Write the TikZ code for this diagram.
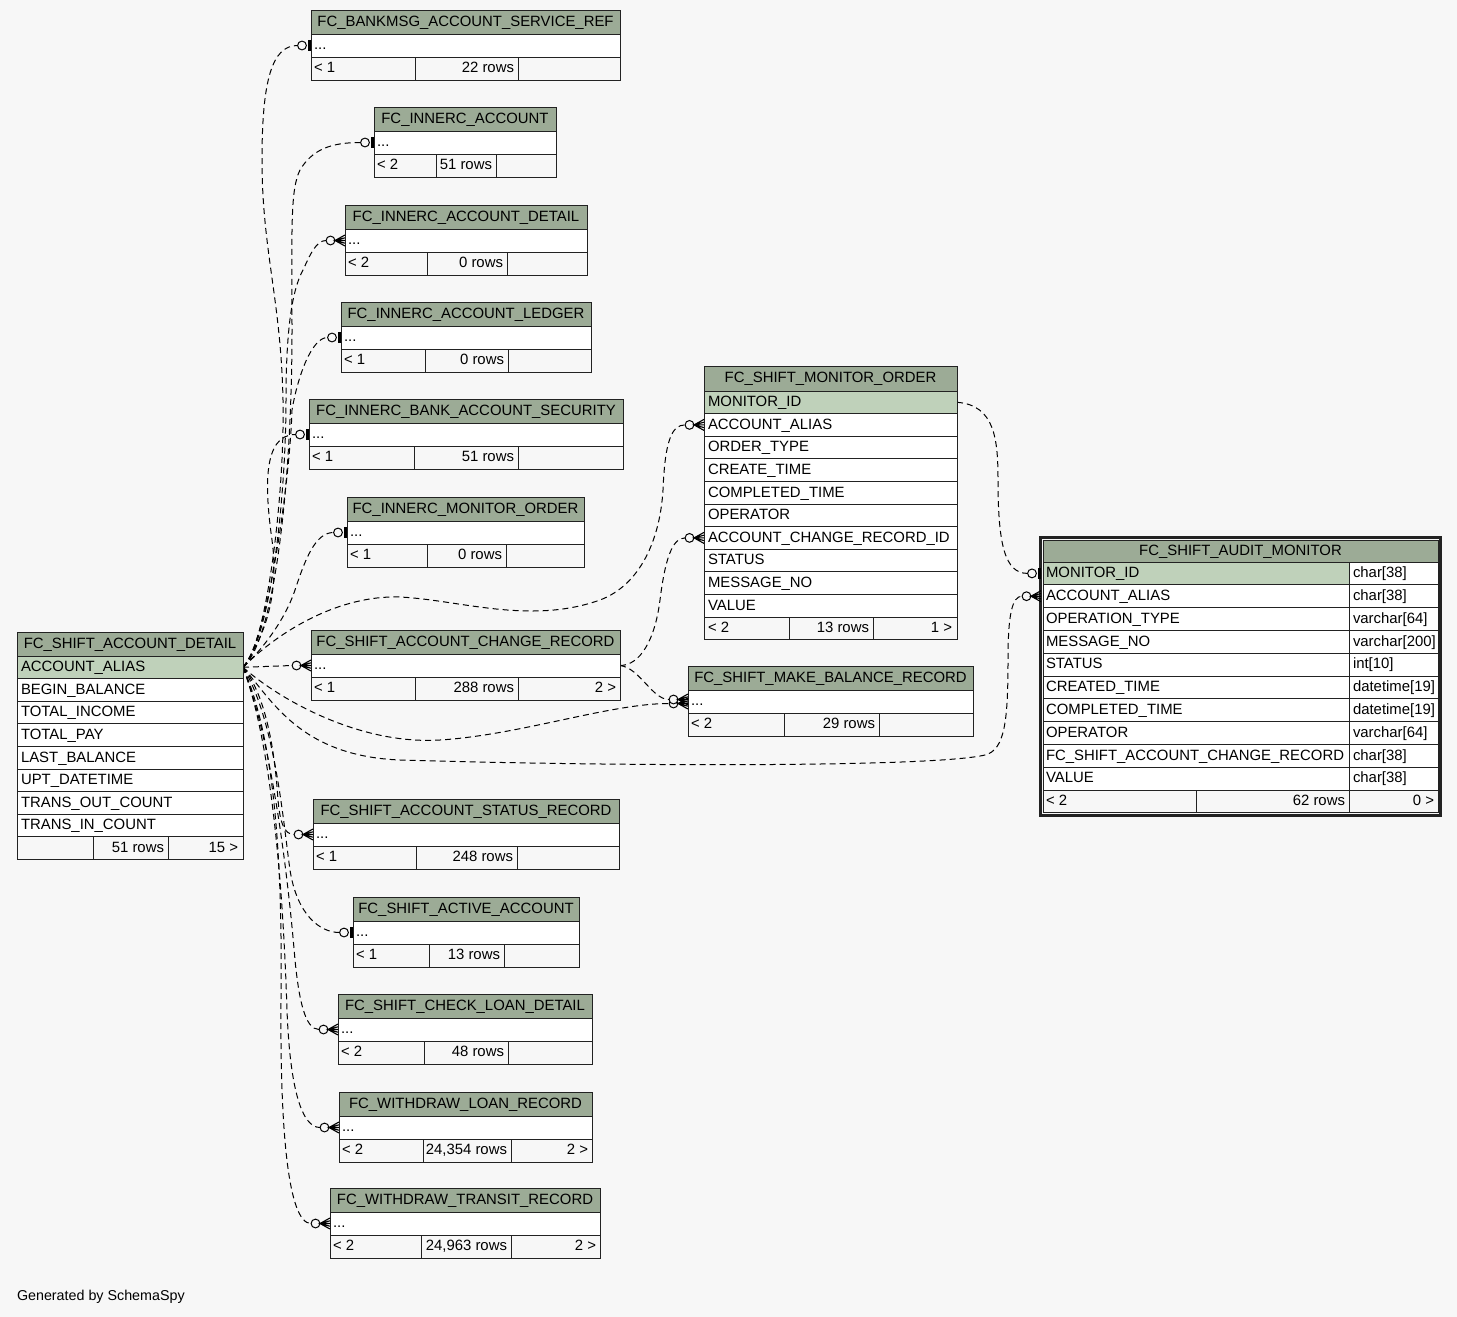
\documentclass[tikz,border=0pt]{standalone}
\usepackage{fontspec}
\setmainfont{Liberation Sans}
\usetikzlibrary{calc}
\definecolor{bgcol}{HTML}{F7F7F7}
\definecolor{hdrcol}{HTML}{9CAB96}
\definecolor{keycol}{HTML}{BFD1BA}
\definecolor{linecol}{HTML}{222222}
\pgfdeclarelayer{bgl}
\pgfdeclarelayer{edges}
\pgfsetlayers{bgl,edges,main}
\tikzset{
  txt/.style={inner sep=0pt, outer sep=0pt, text height=10.6pt, text depth=0pt, font=\fontsize{14.9}{17}\selectfont},
  tabline/.style={draw=linecol, line width=1pt},
  rel/.style={draw=black, line width=1pt, dash pattern=on 6pt off 4pt},
  teeodot/.pic={\draw[black,line width=1pt,fill=bgcol] (-9,0) circle[radius=4.4pt]; \fill[black] (-3,-5.5) rectangle (0,5.5);},
  crowodot/.pic={\draw[black,line width=1pt,fill=bgcol] (-14.5,0) circle[radius=4.4pt];
     \draw[black,line width=1.1pt] (0,-5.5) -- (-10,0) -- (0,5.5) (0,-2.7) -- (-10,0) -- (0,2.7) (-10,0) -- (0,0);}
}
% #1 name, #2 x1, #3 x2, #4 top, #5 d1, #6 d2, #7 title, #8 foot left, #9 foot mid
\newcommand\smalltab[9]{%
  \fill[hdrcol] (#2,#4) rectangle (#3,#4+24);
  \fill[white] (#2,#4+24) rectangle (#3,#4+47);
  \fill[bgcol] (#2,#4+47) rectangle (#3,#4+70);
  \draw[tabline] (#2,#4) rectangle (#3,#4+70);
  \draw[tabline] (#2,#4+24) -- (#3,#4+24) (#2,#4+47) -- (#3,#4+47) (#5,#4+47) -- (#5,#4+70) (#6,#4+47) -- (#6,#4+70);
  \node[txt] (#1-h) at ({(#2+#3)/2},#4+11) {#7};
  \node[txt,anchor=west] (#1-r) at (#2+3,#4+34.5) {...};
  \node[txt,anchor=west] (#1-fl) at (#2+3,#4+57.5) {#8};
  \node[txt,anchor=east] (#1-fm) at (#6-4,#4+57.5) {#9};
  \coordinate (#1) at (#2,#4+35.5);
  \coordinate (#1-t) at (#2-13.5,#4+35.5);
  \coordinate (#1-c) at (#2-19,#4+35.5);
  \coordinate (#1-R) at (#3,#4+35.5);
}
\begin{document}
\begin{tikzpicture}[x=1pt,y=-1pt]
\begin{pgfonlayer}{bgl}
\fill[bgcol] (0,0) rectangle (1457,1317);
\end{pgfonlayer}
\useasboundingbox (0,0) rectangle (1457,1317);

% ---------- small tables ----------
\smalltab{bank}{311}{620}{10}{415}{518}{FC\_BANKMSG\_ACCOUNT\_SERVICE\_REF}{< 1}{22 rows}
\smalltab{inacc}{374}{556}{107}{436}{496}{FC\_INNERC\_ACCOUNT}{< 2}{51 rows}
\smalltab{inaccd}{345}{587}{205}{427}{507}{FC\_INNERC\_ACCOUNT\_DETAIL}{< 2}{0 rows}
\smalltab{inled}{341}{591}{302}{425}{508}{FC\_INNERC\_ACCOUNT\_LEDGER}{< 1}{0 rows}
\smalltab{insec}{309}{623}{399}{414}{518}{FC\_INNERC\_BANK\_ACCOUNT\_SECURITY}{< 1}{51 rows}
\smalltab{inmon}{347}{584}{497}{427}{506}{FC\_INNERC\_MONITOR\_ORDER}{< 1}{0 rows}
\smalltab{chg}{311}{620}{630}{415}{518}{FC\_SHIFT\_ACCOUNT\_CHANGE\_RECORD}{< 1}{288 rows}
\node[txt,anchor=east] (chg-fr) at (616,687.5) {2 >};
\smalltab{mkb}{688}{973}{666}{784}{879}{FC\_SHIFT\_MAKE\_BALANCE\_RECORD}{< 2}{29 rows}
\smalltab{stat}{313}{619}{799}{416}{517}{FC\_SHIFT\_ACCOUNT\_STATUS\_RECORD}{< 1}{248 rows}
\smalltab{act}{353}{579}{897}{429}{504}{FC\_SHIFT\_ACTIVE\_ACCOUNT}{< 1}{13 rows}
\smalltab{chk}{338}{592}{994}{424}{508}{FC\_SHIFT\_CHECK\_LOAN\_DETAIL}{< 2}{48 rows}
\smalltab{wlr}{339}{592}{1092}{423}{511}{FC\_WITHDRAW\_LOAN\_RECORD}{< 2}{24,354 rows}
\node[txt,anchor=east] (wlr-fr) at (588,1149.5) {2 >};
\smalltab{wtr}{330}{600}{1188}{421}{511}{FC\_WITHDRAW\_TRANSIT\_RECORD}{< 2}{24,963 rows}
\node[txt,anchor=east] (wtr-fr) at (596,1245.5) {2 >};

% ---------- FC_SHIFT_ACCOUNT_DETAIL ----------
\fill[hdrcol] (17,632) rectangle (243,656);
\fill[keycol] (17,656) rectangle (243,678.6);
\fill[white] (17,678.6) rectangle (243,836.8);
\fill[bgcol] (17,836.8) rectangle (243,859.4);
\draw[tabline] (17,632) rectangle (243,859.4);
\foreach \i in {0,...,8} \draw[tabline] (17,656+\i*22.6) -- (243,656+\i*22.6);
\draw[tabline] (93,836.8) -- (93,859.4) (168,836.8) -- (168,859.4);
\node[txt] (ad-h) at (130,643) {FC\_SHIFT\_ACCOUNT\_DETAIL};
\foreach \t [count=\i from 0] in {ACCOUNT\_ALIAS,BEGIN\_BALANCE,TOTAL\_INCOME,TOTAL\_PAY,LAST\_BALANCE,UPT\_DATETIME,TRANS\_OUT\_COUNT,TRANS\_IN\_COUNT}
  \node[txt,anchor=west] (ad-\i) at (21,656+\i*22.6+10.3) {\t};
\node[txt,anchor=east] (ad-fm) at (164,847.1) {51 rows};
\node[txt,anchor=east] (ad-fr) at (238,847.1) {15 >};
\coordinate (S) at (243,667.3);

% ---------- FC_SHIFT_MONITOR_ORDER ----------
\fill[hdrcol] (704,366) rectangle (957,391);
\fill[keycol] (704,391) rectangle (957,413.6);
\fill[white] (704,413.6) rectangle (957,617);
\fill[bgcol] (704,617) rectangle (957,639.6);
\draw[tabline] (704,366) rectangle (957,639.6);
\foreach \i in {0,...,10} \draw[tabline] (704,391+\i*22.6) -- (957,391+\i*22.6);
\draw[tabline] (789,617) -- (789,639.6) (873,617) -- (873,639.6);
\node[txt] (mo-h) at (830.5,377.5) {FC\_SHIFT\_MONITOR\_ORDER};
\foreach \t [count=\i from 0] in {MONITOR\_ID,ACCOUNT\_ALIAS,ORDER\_TYPE,CREATE\_TIME,COMPLETED\_TIME,OPERATOR,ACCOUNT\_CHANGE\_RECORD\_ID,STATUS,MESSAGE\_NO,VALUE}
  \node[txt,anchor=west] (mo-\i) at (708,391+\i*22.6+10.3) {\t};
\node[txt,anchor=west] (mo-fl) at (708,627.3) {< 2};
\node[txt,anchor=east] (mo-fm) at (869,627.3) {13 rows};
\node[txt,anchor=east] (mo-fr) at (952,627.3) {1 >};
\coordinate (moID) at (957,402.3);
\coordinate (moAA-c) at (685,424.9);
\coordinate (moAA) at (704,424.9);
\coordinate (moCR-c) at (685,537.9);
\coordinate (moCR) at (704,537.9);

% ---------- FC_SHIFT_AUDIT_MONITOR ----------
\fill[hdrcol] (1043,540) rectangle (1438,562);
\fill[keycol] (1043,562) rectangle (1349,584.8);
\fill[white] (1349,562) rectangle (1438,584.8);
\fill[white] (1043,584.8) rectangle (1438,790);
\fill[bgcol] (1043,790) rectangle (1438,812.8);
\draw[draw=linecol,line width=2.2pt] (1040.5,537.5) rectangle (1440.5,815.5);
\draw[tabline] (1043,540) rectangle (1438,812.8);
\foreach \i in {0,...,10} \draw[tabline] (1043,562+\i*22.8) -- (1438,562+\i*22.8);
\draw[tabline] (1349,562) -- (1349,812.8) (1196,790) -- (1196,812.8);
\node[txt] (au-h) at (1240.5,550) {FC\_SHIFT\_AUDIT\_MONITOR};
\foreach \n/\t [count=\i from 0] in {MONITOR\_ID/char[38],ACCOUNT\_ALIAS/char[38],OPERATION\_TYPE/varchar[64],MESSAGE\_NO/varchar[200],STATUS/int[10],CREATED\_TIME/datetime[19],COMPLETED\_TIME/datetime[19],OPERATOR/varchar[64],FC\_SHIFT\_ACCOUNT\_CHANGE\_RECORD/char[38],VALUE/char[38]}
  {\node[txt,anchor=west] (au-n\i) at (1046,562+\i*22.8+10.4) {\n};
   \node[txt,anchor=west] (au-t\i) at (1353,562+\i*22.8+10.4) {\t};}
\node[txt,anchor=west] (au-fl) at (1046,800.4) {< 2};
\node[txt,anchor=east] (au-fm) at (1345,800.4) {62 rows};
\node[txt,anchor=east] (au-fr) at (1434,800.4) {0 >};
\coordinate (auID) at (1041,573.4);
\coordinate (auID-t) at (1027.5,573.4);
\coordinate (auAA) at (1041,596.2);
\coordinate (auAA-c) at (1022,596.2);

\node[txt,anchor=west,font=\fontsize{14.3}{17}\selectfont] (gen) at (17,1295) {Generated by SchemaSpy};

% ---------- connectors ----------
\begin{pgfonlayer}{edges}
\draw[rel] (S) .. controls (265,650) and (285,500) .. (283,400) .. controls (281,300) and (262,250) .. (262,160) .. controls (262,80) and (272,45.5) .. (bank-t);
\draw[rel] (S) .. controls (275,640) and (292,480) .. (292,330) .. controls (292,230) and (290,190) .. (300,170) .. controls (312,150) and (330,142.5) .. (inacc-t);
\draw[rel] (S) .. controls (270,640) and (286,500) .. (286,400) .. controls (286,330) and (292,290) .. (303,270) .. controls (310,255) and (316,240.5) .. (inaccd-c);
\draw[rel] (S) .. controls (268,640) and (290,480) .. (292,410) .. controls (298,375) and (312,337.5) .. (inled-t);
\draw[rel] (S) .. controls (262,640) and (280,600) .. (272,540) .. controls (265,490) and (262,434.5) .. (insec-t);
\draw[rel] (S) .. controls (262,650) and (285,620) .. (295,590) .. controls (305,560) and (315,532.5) .. (inmon-t);
\draw[rel] (S) .. controls (280,630) and (340,595) .. (400,597) .. controls (460,600) and (530,625) .. (600,600) .. controls (640,585) and (660,540) .. (663,490) .. controls (665,440) and (672,424.9) .. (moAA-c);
\draw[rel] (S) -- (chg-c);
\draw[rel] (S) .. controls (280,700) and (360,745) .. (440,740) .. controls (520,735) and (610,703.5) .. ($(mkb-c)+(0,2)$);
\draw[rel] (S) .. controls (272,700) and (300,756) .. (400,760) .. controls (600,766) and (930,768) .. (985,755) .. controls (1005,750) and (1008,720) .. (1008,660) .. controls (1008,615) and (1012,596.2) .. (auAA-c);
\draw[rel] (S) .. controls (270,700) and (276,770) .. (278,800) .. controls (280,822) and (284,834.5) .. (stat-c);
\draw[rel] (S) .. controls (275,720) and (283,820) .. (290,870) .. controls (297,915) and (320,932.5) .. (act-t);
\draw[rel] (S) .. controls (275,750) and (290,900) .. (295,960) .. controls (299,1000) and (305,1029.5) .. (chk-c);
\draw[rel] (S) .. controls (278,760) and (285,950) .. (287,1010) .. controls (290,1090) and (302,1127.5) .. (wlr-c);
\draw[rel] (S) .. controls (280,750) and (282,900) .. (281,1000) .. controls (280,1130) and (288,1223.5) .. (wtr-c);
\draw[rel] (chg-R) .. controls (640,665.5) and (655,640) .. (660,600) .. controls (665,560) and (672,537.9) .. (moCR-c);
\draw[rel] (chg-R) .. controls (640,668) and (652,699.5) .. ($(mkb-c)+(0,-2)$);
\draw[rel] (moID) .. controls (995,405) and (998,440) .. (998,480) .. controls (998,545) and (1005,573.4) .. (auID-t);
\end{pgfonlayer}

% ---------- end markers ----------
\pic at (bank) {teeodot};
\pic at (inacc) {teeodot};
\pic at (inaccd) {crowodot};
\pic at (inled) {teeodot};
\pic at (insec) {teeodot};
\pic at (inmon) {teeodot};
\pic at (chg) {crowodot};
\pic at ($(mkb)+(0,2)$) {crowodot};
\pic at ($(mkb)+(0,-2)$) {crowodot};
\pic at (stat) {crowodot};
\pic at (act) {teeodot};
\pic at (chk) {crowodot};
\pic at (wlr) {crowodot};
\pic at (wtr) {crowodot};
\pic at (moAA) {crowodot};
\pic at (moCR) {crowodot};
\pic at (auID) {teeodot};
\pic at (auAA) {crowodot};
\end{tikzpicture}
\end{document}
